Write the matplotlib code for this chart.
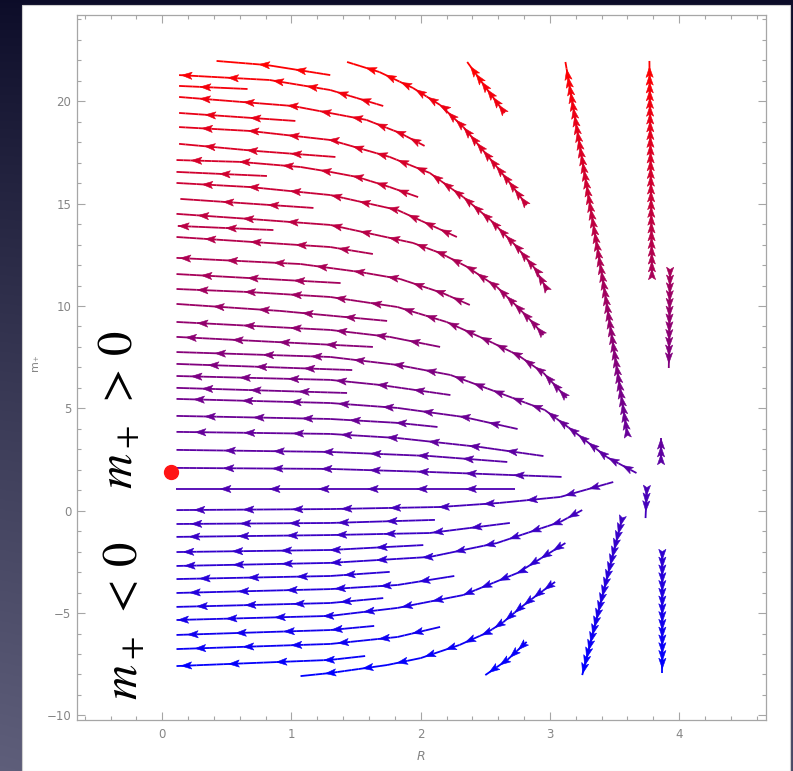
import numpy as np
import matplotlib
matplotlib.use("Agg")
import matplotlib.pyplot as plt
from matplotlib.collections import LineCollection, PolyCollection
from matplotlib.colors import LinearSegmentedColormap, Normalize
from matplotlib.patches import Rectangle

plt.rcParams['mathtext.fontset'] = 'stix'

# ---------------- data: streamlines (R, m_+), listed in flow order (tail -> tip)
upper_lines = [
    [(1.30, 21.28), (0.81, 21.77), (0.42, 21.97)],
    [(1.71, 19.77), (1.30, 20.55), (0.83, 21.04), (0.13, 21.28)],
    [(0.66, 20.60), (0.13, 20.75)],
    [(2.03, 17.82), (1.84, 18.45), (1.58, 19.09), (1.01, 19.77), (0.13, 20.21)],
    [(1.03, 19.04), (0.13, 19.43)],
    [(2.98, 10.78), (2.88, 11.86), (2.73, 12.98), (2.54, 14.20), (2.33, 15.32),
     (2.07, 16.50), (1.76, 17.28), (1.30, 18.11), (0.68, 18.55), (0.13, 18.74)],
    [(2.82, 14.93), (2.69, 16.01), (2.59, 16.79), (2.46, 17.77), (2.33, 18.74),
     (2.15, 19.82), (1.94, 20.65), (1.68, 21.43), (1.43, 21.92)],
    [(2.65, 19.43), (2.50, 20.70), (2.36, 21.92)],
    [(1.34, 17.28), (0.73, 17.57), (0.13, 17.92)],
    [(1.98, 15.32), (1.76, 15.81), (1.51, 16.30), (1.30, 16.55), (1.07, 16.79),
     (0.60, 17.04), (0.11, 17.13)],
    [(0.81, 16.35), (0.11, 16.55)],
    [(2.28, 13.37), (1.82, 14.69), (1.30, 15.42), (0.68, 15.81), (0.11, 16.01)],
    [(1.17, 14.79), (0.14, 15.23)],
    [(2.95, 8.58), (2.87, 9.17), (2.75, 9.95), (2.59, 10.93), (2.36, 11.91),
     (2.15, 12.59), (1.94, 13.08), (1.30, 13.96), (0.68, 14.25), (0.11, 14.50)],
    [(0.86, 13.71), (0.12, 13.91)],
    [(1.63, 12.54), (1.30, 12.88), (0.11, 13.37)],
]

middle_lines = [
    [(2.38, 10.05), (2.17, 10.63), (1.84, 11.32), (1.53, 11.66), (1.07, 12.05), (0.11, 12.35)],
    [(1.38, 11.12), (0.11, 11.56)],
    [(3.13, 5.51), (2.95, 6.73), (2.75, 7.61), (2.51, 8.34), (2.20, 9.22),
     (1.82, 9.95), (1.30, 10.44), (0.68, 10.68), (0.11, 10.83)],
    [(1.74, 9.27), (0.91, 9.76), (0.11, 10.10)],
    [(2.15, 8.00), (1.76, 8.49), (1.30, 8.83), (0.11, 9.22)],
    [(1.63, 8.00), (0.11, 8.49)],
    [(3.67, 1.84), (3.44, 2.62), (3.19, 3.85), (2.96, 4.92), (2.61, 5.75),
     (2.23, 6.63), (1.82, 7.12), (1.30, 7.51), (0.11, 7.75)],
    [(1.47, 6.87), (0.11, 7.17)],
    [(2.23, 5.65), (1.69, 6.14), (1.30, 6.39), (0.11, 6.58)],
    [(1.43, 5.75), (0.11, 6.00)],
    [(2.75, 3.99), (2.33, 4.58), (1.82, 5.02), (1.30, 5.26), (0.11, 5.46)],
    [(2.13, 4.09), (1.82, 4.29), (1.30, 4.48), (0.11, 4.63)],
    [(2.95, 2.67), (2.46, 3.11), (1.82, 3.55), (1.30, 3.75), (0.11, 3.85)],
    [(2.67, 2.38), (2.07, 2.67), (1.30, 2.87), (0.11, 2.97)],
    [(3.09, 1.65), (2.07, 1.89), (1.30, 2.04), (0.11, 2.09)],
    [(2.73, 1.06), (1.30, 1.06), (0.11, 1.06)],
    [(3.49, 1.40), (3.08, 0.67), (2.61, 0.38), (2.15, 0.18), (1.30, 0.08), (0.11, 0.03)],
]

lower_lines = [
    [(2.11, -0.45), (1.30, -0.60), (0.11, -0.65)],
    [(2.69, -0.60), (2.07, -1.09), (1.30, -1.19), (0.11, -1.28)],
    [(2.02, -1.68), (1.30, -1.92), (0.11, -2.02)],
    [(3.25, 0.03), (3.08, -0.55), (2.59, -1.58), (2.07, -2.26), (1.30, -2.55), (0.11, -2.70)],
    [(1.76, -2.99), (1.30, -3.19), (0.11, -3.34)],
    [(2.26, -3.19), (1.82, -3.63), (1.30, -3.83), (0.11, -4.02)],
    [(1.71, -4.27), (1.30, -4.51), (0.11, -4.70)],
    [(3.12, -1.58), (2.75, -3.04), (2.33, -4.12), (1.82, -4.75), (1.30, -5.14), (0.11, -5.34)],
    [(1.64, -5.63), (1.30, -5.83), (0.11, -6.07)],
    [(2.15, -5.68), (1.82, -6.17), (1.30, -6.51), (0.11, -6.76)],
    [(1.57, -7.10), (1.30, -7.29), (0.11, -7.59)],
    [(3.04, -3.48), (2.90, -4.12), (2.77, -4.75), (2.64, -5.44), (2.51, -5.97),
     (2.30, -6.56), (2.00, -7.20), (1.74, -7.54), (1.30, -7.93), (1.07, -8.08)],
    [(2.82, -6.41), (2.67, -7.29), (2.50, -8.03)],
]

vertical_lines = [
    [(3.60, 3.70), (3.41, 11.27), (3.12, 21.92)],
    [(3.79, 11.42), (3.77, 21.97)],
    [(3.93, 11.76), (3.92, 6.97)],
    [(3.86, 2.38), (3.86, 3.55)],
    [(3.75, 1.11), (3.74, -0.36)],
    [(3.56, -0.36), (3.25, -8.03)],
    [(3.87, -2.02), (3.87, -7.93)],
]

marker_R, marker_m = 0.067, 1.89
x_major = [0, 1, 2, 3, 4]
y_major = [-10, -5, 0, 5, 10, 15, 20]
label_pos = r'$m_+\;>\,0$'
label_neg = r'$m_+\;<\,0$'

# ---------------- figure
W, H = 793, 771
fig = plt.figure(figsize=(W / 100, H / 100), dpi=100)

bg = fig.add_axes([0, 0, 1, 1], zorder=0)
bg.set_xlim(0, 1); bg.set_ylim(0, 1); bg.axis('off')
ny, nx = 300, 300
tv = np.linspace(0, 1, ny)[:, None, None]          # 0 at top, 1 at bottom
tx = np.linspace(0, 1, nx)[None, :, None]
dark = np.array([0.05, 0.05, 0.16])
light = np.array([0.37, 0.37, 0.48])
img = dark + (light - dark) * np.clip(tv ** 0.9 * (1 - 0.25 * tx), 0, 1)
bg.imshow(img, extent=[0, 1, 0, 1], origin='upper', aspect='auto')
bg.add_patch(Rectangle((22 / W, 0), (790 - 22) / W, (H - 5) / H,
                       facecolor='white', edgecolor='#cfcfcf', lw=0.8))

ax = fig.add_axes([77 / W, (H - 720) / H, (765.7 - 77) / W, 705 / H], zorder=1)
ax.set_facecolor('none')
ax.set_xlim(-0.66, 4.67)
ax.set_ylim(-10.225, 24.215)

cmap = LinearSegmentedColormap.from_list('br', [(0, 0, 1), (1, 0, 0)])
norm = Normalize(-8, 22)

spacing = 0.38      # arrow spacing along streamline (data arc length)
head_len, head_w = 10.5, 3.6   # pixels

segs_all, cols_all, polys, pcols = [], [], [], []
inv = ax.transData.inverted()

def draw_stream(pts):
    pts = np.asarray(pts, float)
    fine = [pts[0]]
    for a, b in zip(pts[:-1], pts[1:]):
        n = max(2, int(np.hypot(b[0] - a[0], (b[1] - a[1]) / 6.5) / 0.05))
        for k in range(1, n + 1):
            fine.append(a + (b - a) * k / n)
    fine = np.array(fine)
    for a, b in zip(fine[:-1], fine[1:]):
        segs_all.append([a, b])
        cols_all.append(cmap(norm(0.5 * (a[1] + b[1]))))
    P = ax.transData.transform(pts)
    d = np.hypot(np.diff(pts[:, 0]), np.diff(pts[:, 1]))
    cum = np.concatenate([[0], np.cumsum(d)])
    total = cum[-1]
    s = spacing
    while s <= total + 1e-9:
        i = min(max(np.searchsorted(cum, s) - 1, 0), len(d) - 1)
        f = (s - cum[i]) / d[i] if d[i] > 0 else 0
        p = P[i] + f * (P[i + 1] - P[i])
        u = P[i + 1] - P[i]
        u = u / np.hypot(*u)
        nvec = np.array([-u[1], u[0]])
        back = p - head_len * u
        tri = np.array([p, back + head_w * nvec, p - 0.78 * head_len * u, back - head_w * nvec])
        polys.append(inv.transform(tri))
        mval = pts[i, 1] + f * (pts[i + 1, 1] - pts[i, 1])
        pcols.append(cmap(norm(mval)))
        s += spacing

for group in (upper_lines, middle_lines, lower_lines, vertical_lines):
    for line in group:
        draw_stream(line)

ax.add_collection(LineCollection(segs_all, colors=cols_all, linewidths=1.3,
                                 capstyle='butt', zorder=2))
ax.add_collection(PolyCollection(polys, facecolors=pcols, edgecolors=pcols,
                                 linewidths=0.4, zorder=3))

ax.plot([marker_R], [marker_m], 'o', color='#ff1414', ms=10, mec='#ff1414', zorder=5)

# ---------------- axes styling (Mathematica frame look)
for sp in ax.spines.values():
    sp.set_color('#a6a6a6')
    sp.set_linewidth(0.9)
ax.set_xticks(x_major)
ax.set_xticks(np.arange(-0.6, 4.65, 0.2), minor=True)
ax.set_yticks(y_major)
ax.set_yticks(np.arange(-10, 25, 1), minor=True)
ax.tick_params(which='both', direction='in', top=True, right=True,
               color='#a6a6a6', width=0.8, labelcolor='#858585', labelsize=8.5)
ax.tick_params(which='major', length=5.5)
ax.tick_params(which='minor', length=3.2)
ax.tick_params(axis='x', pad=5.5)
ax.tick_params(axis='y', pad=4)

fig.text(421 / W, 1 - 757 / H, 'R', ha='center', va='center', fontsize=9,
         style='italic', color='#858585')
fig.text(35 / W, 1 - 363 / H, 'm₊', ha='center', va='center', fontsize=8,
         rotation=90, color='#858585')

ax.text((118.5 - 77) / 688.7, (720 - 410) / 705, label_pos, transform=ax.transAxes,
        rotation=90, ha='center', va='center', fontsize=35, color='black')
ax.text((123 - 77) / 688.7, (720 - 621) / 705, label_neg, transform=ax.transAxes,
        rotation=90, ha='center', va='center', fontsize=35, color='black')

fig.savefig('out.png', dpi=100)
